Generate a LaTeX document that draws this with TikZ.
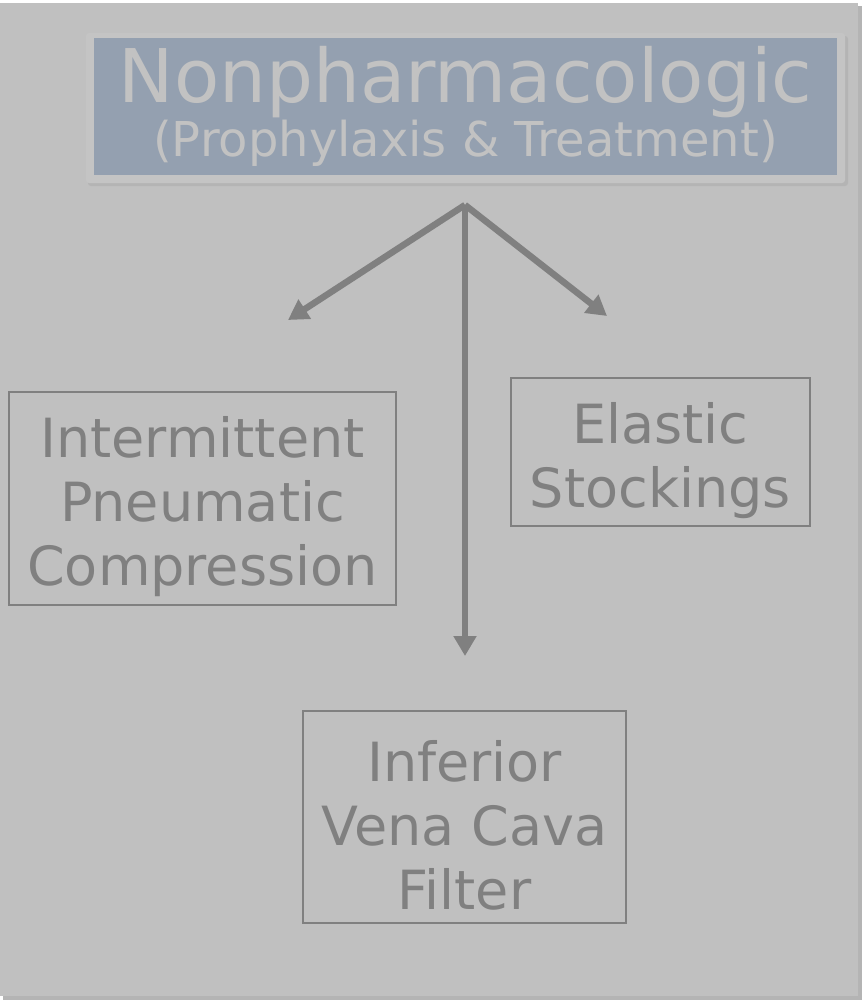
\documentclass[tikz,border=0pt]{standalone}
\usepackage{fontspec}
\setmainfont{DejaVu Sans}
\usetikzlibrary{arrows.meta}
\definecolor{panel}{HTML}{C0C0C0}
\definecolor{panelshadow}{HTML}{B4B4B4}
\definecolor{frame}{HTML}{C4C4C4}
\definecolor{titlefill}{HTML}{94A0B0}
\definecolor{titletext}{HTML}{C2C2C2}
\definecolor{ink}{HTML}{808080}
\newcommand{\toppad}{\rule{0pt}{58pt}}
\tikzset{
  x=1pt, y=-1pt,
  itembox/.style={draw=ink, line width=1.5pt, text=ink, align=center, inner sep=0pt,
    font=\fontsize{54}{64}\selectfont},
  flow/.style={draw=ink, line width=6.5pt, -{Triangle[length=20pt,width=22pt]}},
}
\begin{document}
\begin{tikzpicture}
\useasboundingbox (0,0) rectangle (866,1002);
\fill[white] (0,0) rectangle (866,1002);
% panel with shadow
\fill[panelshadow] (3,6) rectangle (862,1000);
\fill[panel] (0,3) rectangle (858,996);
% title frame with shadow
\fill[panelshadow, rounded corners=3pt] (88,36) rectangle (848,186);
\fill[frame, rounded corners=3pt] (86,33) rectangle (845,183);
\node[fill=titlefill, minimum width=743pt, minimum height=137pt, inner sep=0pt,
  text=titletext, align=center] (title) at (465.5,106.5)
  {{\fontsize{74}{60}\selectfont Nonpharmacologic}\\[1pt]{\fontsize{48}{60}\selectfont (Prophylaxis \& Treatment)}};
% boxes
\node[itembox, minimum width=387pt, minimum height=213pt] (ipc) at (202.5,498.5)
  {\toppad Intermittent\\Pneumatic\\Compression};
\node[itembox, minimum width=299pt, minimum height=148pt] (es) at (660.5,452)
  {\toppad Elastic\\Stockings};
\node[itembox, minimum width=323pt, minimum height=212pt] (ivc) at (464.5,817)
  {\toppad Inferior\\Vena Cava\\Filter};
% arrows
\coordinate (root) at (465,205);
\coordinate (tipL) at (288,320);
\coordinate (tipR) at (607,316);
\coordinate (tipD) at (465,656);
\draw[flow] (root) -- (tipL);
\draw[flow] (root) -- (tipR);
\draw[flow] (root) -- (tipD);
\end{tikzpicture}
\end{document}
